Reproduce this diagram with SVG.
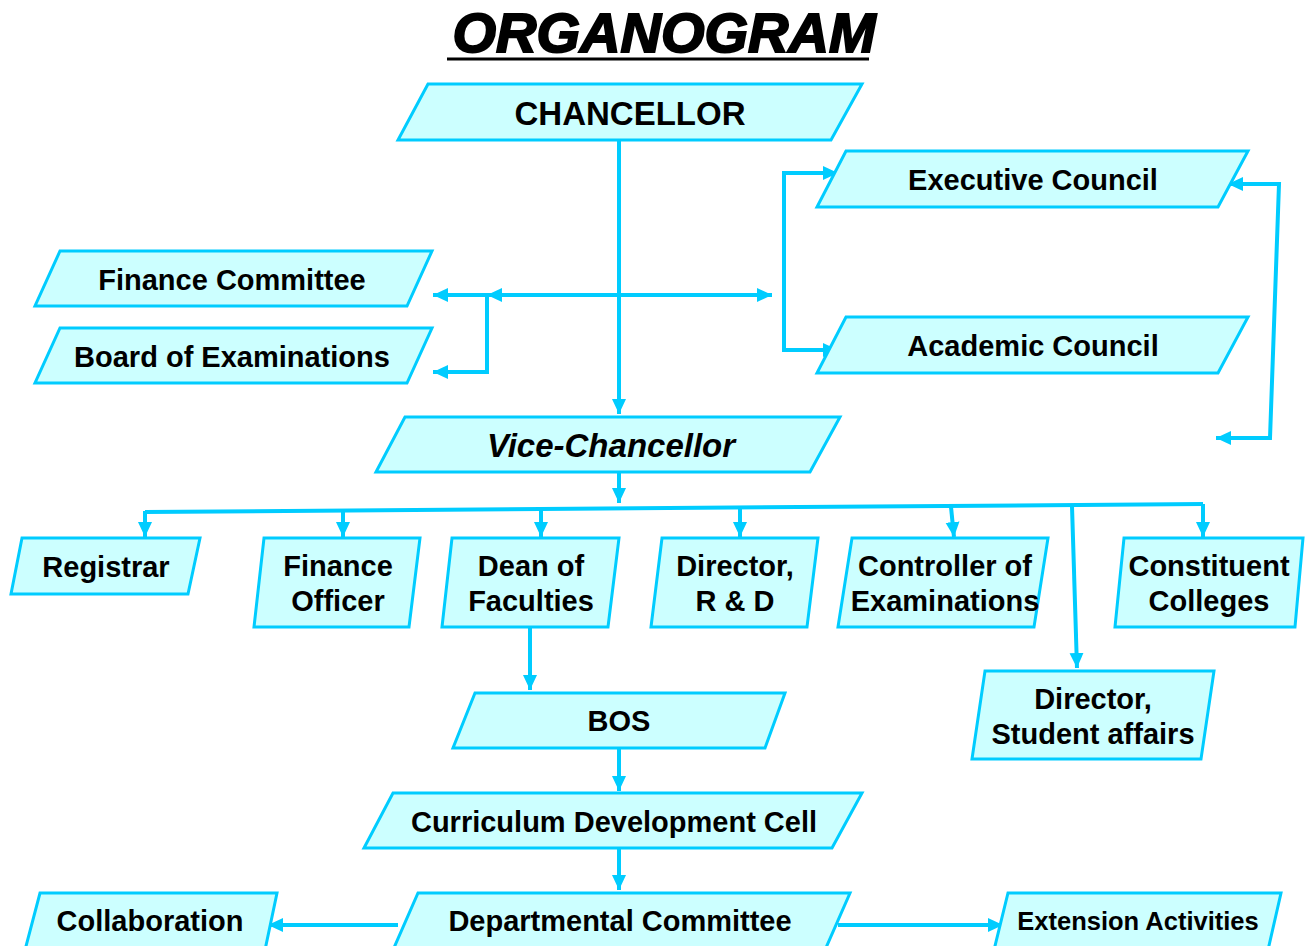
<svg xmlns="http://www.w3.org/2000/svg" width="1311" height="946" viewBox="0 0 1311 946">
<style>
.box{fill:#CCFFFF;stroke:#00CCFF;stroke-width:3}
.t{font-family:"Liberation Sans",Arial,sans-serif;font-weight:bold;font-size:29px;fill:#000;text-anchor:middle}
.big{font-size:33px}
.small{font-size:25.5px}
.it{font-style:italic}
.c{fill:none;stroke:#00CCFF;stroke-width:4}
.a{marker-end:url(#ah)}
.b{marker-start:url(#ah);marker-end:url(#ah)}
</style>
<defs>
<marker id="ah" markerUnits="userSpaceOnUse" markerWidth="16" markerHeight="16" refX="15" refY="8" orient="auto-start-reverse" viewBox="0 0 16 16">
<path d="M0,1 L15,8 L0,15 z" fill="#00CCFF"/>
</marker>
</defs>
<rect width="1311" height="946" fill="#fff"/>
<g id="title">
<text x="664" y="52" font-family="Liberation Sans,Arial,sans-serif" font-weight="bold" font-style="italic" font-size="56" text-anchor="middle" stroke="#000" stroke-width="2">ORGANOGRAM</text>
<line x1="447" y1="59" x2="869" y2="59" stroke="#000" stroke-width="3"/>
</g>
<g id="connectors">
<path class="c a" d="M619,140 V414"/>
<path class="c b" d="M487,295 H772"/>
<path class="c a" d="M487,295 H433"/>
<path class="c a" d="M487,295 V372 H433"/>
<path class="c b" d="M838,173 H784 V350 H838"/>
<path class="c b" d="M1228,184 H1279 L1270,438 H1216"/>
<path class="c a" d="M619,472 V503"/>
<path class="c" d="M145,512 L1203,504"/>
<path class="c a" d="M145,511 V537"/>
<path class="c a" d="M343,510 V537"/>
<path class="c a" d="M541,509 V537"/>
<path class="c a" d="M740,508 V537"/>
<path class="c a" d="M951,507 L954,537"/>
<path class="c a" d="M1072,506 L1077,668"/>
<path class="c a" d="M1203,504 V537"/>
<path class="c a" d="M530,627 V690"/>
<path class="c a" d="M619,748 V791"/>
<path class="c a" d="M619,848 V890"/>
<path class="c a" d="M398,925 H268"/>
<path class="c a" d="M838,925 H1003"/>
</g>
<g id="chancellor">
<polygon class="box" points="428,84 862,84 831,140 398,140"/>
<text class="t big" x="630" y="125">CHANCELLOR</text>
</g>
<g id="executive-council">
<polygon class="box" points="846,151 1248,151 1218,207 817,207"/>
<text class="t" x="1033" y="190">Executive Council</text>
</g>
<g id="academic-council">
<polygon class="box" points="846,317 1248,317 1218,373 817,373"/>
<text class="t" x="1033" y="356">Academic Council</text>
</g>
<g id="finance-committee">
<polygon class="box" points="60,251 432,251 407,306 35,306"/>
<text class="t" x="232" y="290">Finance Committee</text>
</g>
<g id="board-of-examinations">
<polygon class="box" points="60,328 432,328 407,383 35,383"/>
<text class="t" x="232" y="367">Board of Examinations</text>
</g>
<g id="vice-chancellor">
<polygon class="box" points="405,417 840,417 810,472 376,472"/>
<text class="t big it" x="611" y="457">Vice-Chancellor</text>
</g>
<g id="registrar">
<polygon class="box" points="22,538 200,538 188,594 11,594"/>
<text class="t" x="106" y="577">Registrar</text>
</g>
<g id="finance-officer">
<polygon class="box" points="264,538 420,538 409,627 254,627"/>
<text class="t" x="338" y="576">Finance</text>
<text class="t" x="338" y="611">Officer</text>
</g>
<g id="dean-of-faculties">
<polygon class="box" points="452,538 619,538 608,627 442,627"/>
<text class="t" x="531" y="576">Dean of</text>
<text class="t" x="531" y="611">Faculties</text>
</g>
<g id="director-rd">
<polygon class="box" points="662,538 818,538 807,627 651,627"/>
<text class="t" x="735" y="576">Director,</text>
<text class="t" x="735" y="611">R &amp; D</text>
</g>
<g id="controller-of-examinations">
<polygon class="box" points="852,538 1048,538 1034,627 838,627"/>
<text class="t" x="945" y="576">Controller of</text>
<text class="t" x="945" y="611">Examinations</text>
</g>
<g id="constituent-colleges">
<polygon class="box" points="1124,538 1303,538 1295,627 1115,627"/>
<text class="t" x="1209" y="576">Constituent</text>
<text class="t" x="1209" y="611">Colleges</text>
</g>
<g id="director-student-affairs">
<polygon class="box" points="985,671 1214,671 1201,759 972,759"/>
<text class="t" x="1093" y="709">Director,</text>
<text class="t" x="1093" y="744">Student affairs</text>
</g>
<g id="bos">
<polygon class="box" points="475,693 785,693 765,748 453,748"/>
<text class="t" x="619" y="731">BOS</text>
</g>
<g id="curriculum-development-cell">
<polygon class="box" points="393,793 862,793 832,848 364,848"/>
<text class="t" x="614" y="832">Curriculum Development Cell</text>
</g>
<g id="departmental-committee">
<polygon class="box" points="418,893 850,893 825,950 393,950"/>
<text class="t" x="620" y="931">Departmental Committee</text>
</g>
<g id="collaboration">
<polygon class="box" points="40,893 277,893 265,950 25,950"/>
<text class="t" x="150" y="931">Collaboration</text>
</g>
<g id="extension-activities">
<polygon class="box" points="1008,893 1281,893 1268,950 994,950"/>
<text class="t small" x="1138" y="930">Extension Activities</text>
</g>
</svg>
